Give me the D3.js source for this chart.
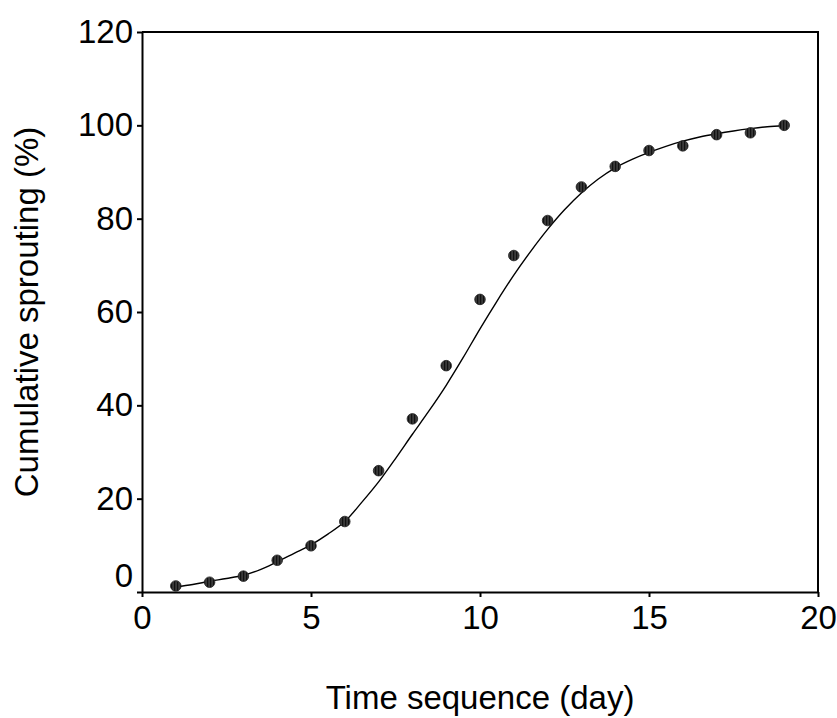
<!DOCTYPE html>
<html>
<head>
<meta charset="utf-8">
<script src="https://cdn.jsdelivr.net/npm/d3@7"></script>
<style>
  html, body { margin: 0; padding: 0; background: #fff; }
  svg { display: block; font-family: Arial, "Liberation Sans", sans-serif; }
</style>
</head>
<body>
<svg id="chart" width="837" height="718"></svg>
<script>
// Observed cumulative sprouting per day
const days = [1, 2, 3, 4, 5, 6, 7, 8, 9, 10, 11, 12, 13, 14, 15, 16, 17, 18, 19];
const sprouting = [1.3, 2.1, 3.4, 6.8, 9.9, 15.1, 26.0, 37.1, 48.5, 62.7, 72.1, 79.6, 86.8, 91.2, 94.6, 95.6, 98.0, 98.4, 100.0];

// Fitted curve, sampled every half day
const fitDays = [1, 1.5, 2, 2.5, 3, 3.5, 4, 4.5, 5, 5.5, 6, 6.5, 7, 7.5, 8, 8.5, 9, 9.5, 10,
                 10.5, 11, 11.5, 12, 12.5, 13, 13.5, 14, 14.5, 15, 15.5, 16, 16.5, 17, 17.5, 18, 18.5, 19];
const fitValues = [1.1, 1.6, 2.3, 2.9, 3.6, 4.8, 6.5, 8.3, 10.1, 12.4, 15.1, 19.2, 23.6, 28.6, 33.8, 38.9, 44.3, 50.2, 56.4,
                   62.3, 67.9, 73.0, 77.7, 81.9, 85.5, 88.5, 90.9, 92.7, 94.2, 95.5, 96.6, 97.5, 98.2, 98.8, 99.3, 99.7, 99.9];

const xTicks = [0, 5, 10, 15, 20];
const yTicks = [0, 20, 40, 60, 80, 100, 120];
const xTitle = "Time sequence (day)";
const yTitle = "Cumulative sprouting (%)";

const svg = d3.select("#chart");
const plotLeft = 142, plotRight = 818, plotTop = 32, plotBottom = 592;

const x = d3.scaleLinear().domain([0, 20]).range([plotLeft, plotRight]);
const y = d3.scaleLinear().domain([0, 120]).range([plotBottom, plotTop]);

// hatched fill for the markers
const defs = svg.append("defs");
const pat = defs.append("pattern")
  .attr("id", "dotHatch")
  .attr("patternUnits", "userSpaceOnUse")
  .attr("width", 3).attr("height", 3);
pat.append("rect").attr("width", 3).attr("height", 3).attr("fill", "#3a3a3a");
pat.append("rect").attr("width", 1.2).attr("height", 3).attr("fill", "#111");

// frame (top and right edges)
svg.append("path")
  .attr("d", `M${plotLeft},${plotTop}H${plotRight}V${plotBottom}`)
  .attr("fill", "none")
  .attr("stroke", "#000")
  .attr("stroke-width", 2);

// x axis
const xAxis = svg.append("g")
  .attr("transform", `translate(0,${plotBottom})`)
  .call(d3.axisBottom(x).tickValues(xTicks).tickSize(5).tickPadding(9).tickSizeOuter(0));
xAxis.select(".domain").attr("stroke-width", 2);
xAxis.selectAll(".tick line").attr("stroke-width", 2);
xAxis.selectAll(".tick text").attr("font-size", 33).attr("fill", "#000")
  .attr("font-family", "Arial, 'Liberation Sans', sans-serif");

// y axis
const yAxis = svg.append("g")
  .attr("transform", `translate(${plotLeft},0)`)
  .call(d3.axisLeft(y).tickValues(yTicks).tickSize(5).tickPadding(4).tickSizeOuter(0));
yAxis.select(".domain").attr("stroke-width", 2);
yAxis.selectAll(".tick line").attr("stroke-width", 2);
yAxis.selectAll(".tick text").attr("font-size", 33).attr("fill", "#000")
  .attr("font-family", "Arial, 'Liberation Sans', sans-serif")
  .attr("dy", d => d === 0 ? "-0.18em" : "0.32em");

// fitted curve
svg.append("path")
  .datum(fitDays.map((d, i) => [d, fitValues[i]]))
  .attr("fill", "none")
  .attr("stroke", "#000")
  .attr("stroke-width", 1.4)
  .attr("d", d3.line().x(d => x(d[0])).y(d => y(d[1])).curve(d3.curveCatmullRom));

// observed points
svg.append("g").selectAll("circle")
  .data(days.map((d, i) => [d, sprouting[i]]))
  .join("circle")
  .attr("cx", d => x(d[0]))
  .attr("cy", d => y(d[1]))
  .attr("r", 5.3)
  .attr("fill", "url(#dotHatch)")
  .attr("stroke", "#222")
  .attr("stroke-width", 0.8);

// axis titles
svg.append("text")
  .attr("x", (plotLeft + plotRight) / 2)
  .attr("y", 709)
  .attr("text-anchor", "middle")
  .attr("font-size", 33)
  .text(xTitle);

svg.append("text")
  .attr("transform", `translate(38,${(plotTop + plotBottom) / 2}) rotate(-90)`)
  .attr("text-anchor", "middle")
  .attr("font-size", 33)
  .text(yTitle);
</script>
</body>
</html>
